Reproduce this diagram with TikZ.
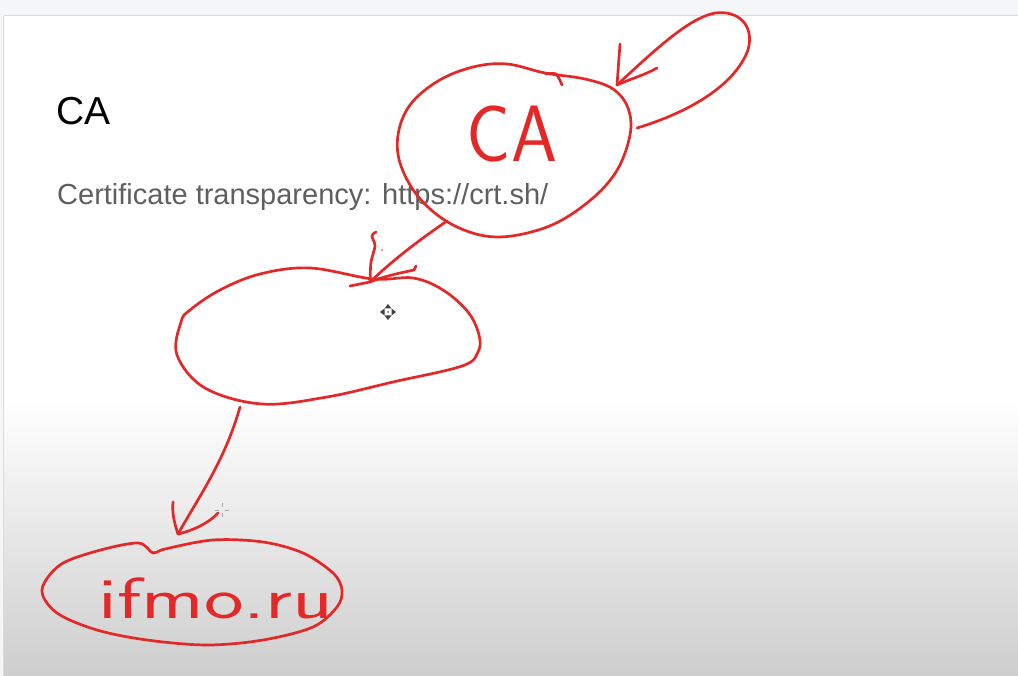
\documentclass[tikz,border=0pt]{standalone}
\usepackage{fontspec}
\setmainfont{Liberation Sans}
\definecolor{penred}{RGB}{228,40,40}
\definecolor{barbg}{RGB}{245,246,247}
\definecolor{barline}{RGB}{218,219,220}
\definecolor{slidegray}{RGB}{95,95,95}
\definecolor{bottomgray}{RGB}{206,206,206}
\begin{document}
\begin{tikzpicture}[x=1pt,y=-1pt,
  ink/.style={draw=penred, line width=2.7pt, line cap=round, line join=round},
  barb/.style={ink},
  handtext/.style={text=penred, inner sep=0pt, font=\sffamily},
  slidetitle/.style={anchor=base west, inner sep=0pt, font=\fontsize{39}{44}\selectfont, text=black},
  slidebody/.style={anchor=base west, inner sep=0pt, font=\fontsize{29}{34}\selectfont, text=slidegray},
  cursorshape/.style={fill=black!75, draw=none}]
\useasboundingbox (0,0) rectangle (1018,676);
% background
\fill[barbg] (0,0) rectangle (1018,676);
\fill[white] (4,16) rectangle (1018,400);
\shade[top color=white, bottom color=bottomgray] (4,399.5) rectangle (1018,676);
\draw[barline, line width=1.5pt] (4,15.5) -- (1018,15.5);
\draw[barline, line width=1.2pt] (3.5,16) -- (3.5,676);
% slide text
\node[slidetitle] (title) at (56,125) {CA};
\node[slidebody] (body) at (57,205) {Certificate transparency: https://crt.sh/};
% CA ellipse
\draw[ink] plot[smooth cycle, tension=0.6] coordinates {(507,64) (545,73) (585,79) (613,89) (628,108) (630,135) (616,172) (587,203) (547,227) (497,237) (455,226) (421,200) (401,166) (398,135) (410,105) (438,81) (473,67)};
\draw[ink] plot[smooth] coordinates {(546,74) (556,74) (562,85)};
\node[handtext, font=\sffamily\fontsize{80}{86}\selectfont, xscale=0.92, anchor=base] (ca) at (512,162) {CA};
% self loop
\coordinate (loopstart) at (637,128);
\coordinate (looptip) at (617,85);
\draw[ink] (loopstart) .. controls (690,112) and (735,85) .. (748,50)
  .. controls (755,25) and (738,10) .. (715,13)
  .. controls (690,18) and (660,45) .. (looptip);
\draw[barb] (looptip) -- (620,44);
\draw[barb] (looptip) .. controls (630,79) and (645,75) .. (657,68);
% arrow CA -> middle
\coordinate (caout) at (447,221);
\coordinate (midin) at (370,282);
\draw[ink] (caout) .. controls (425,236) and (395,258) .. (midin);
\draw[barb] plot[smooth] coordinates {(midin) (371,262) (375,246) (372,236) (376,232)};
\draw[barb] (midin) .. controls (385,276) and (400,273) .. (414,270) -- (416,266);
\draw[barb] (350,286) -- (midin);
\fill[penred] (382,250) circle (0.9);
% middle ellipse
\draw[ink] plot[smooth cycle, tension=0.6] coordinates {(190,310) (220,290) (260,274) (310,268) (373,279) (413,278) (443,290) (468,312) (479,335) (478,352) (462,366) (393,382) (327,397) (262,404) (205,388) (177,355) (181,322)};
% move cursor
\begin{scope}[shift={(388,312)}]
  \fill[cursorshape] (0,-8) -- (-3.5,-3.5) -- (3.5,-3.5) -- cycle;
  \fill[cursorshape] (0,8) -- (-3.5,3.5) -- (3.5,3.5) -- cycle;
  \fill[cursorshape] (-8,0) -- (-3.5,-3.5) -- (-3.5,3.5) -- cycle;
  \fill[cursorshape] (8,0) -- (3.5,-3.5) -- (3.5,3.5) -- cycle;
  \fill[black!60] (0,0) circle (1);
\end{scope}
% arrow middle -> ifmo
\coordinate (midout) at (240,407);
\coordinate (ifmoin) at (178,534);
\draw[ink] (midout) .. controls (225,460) and (200,495) .. (ifmoin);
\draw[barb] (ifmoin) .. controls (174,522) and (172,512) .. (173,502);
\draw[barb] (ifmoin) .. controls (195,530) and (210,522) .. (218,513);
% crosshair cursor
\draw[black!35, line width=0.8pt] (222,503) -- (222,507) (222,513) -- (222,517) (215,510) -- (219,510) (225,510) -- (229,510);
% ifmo ellipse
\draw[ink] plot[smooth cycle, tension=0.55] coordinates {(42,590) (60,565) (97,551) (138,543) (153,553) (165,549) (213,540) (263,542) (303,553) (333,573) (342,590) (337,607) (313,627) (263,640) (207,645) (147,640) (97,630) (57,613)};
\node[handtext, font=\sffamily\fontsize{58}{64}\selectfont, xscale=1.45, anchor=base] (ifmo) at (216,618) {ifmo.ru};
\end{tikzpicture}
\end{document}
